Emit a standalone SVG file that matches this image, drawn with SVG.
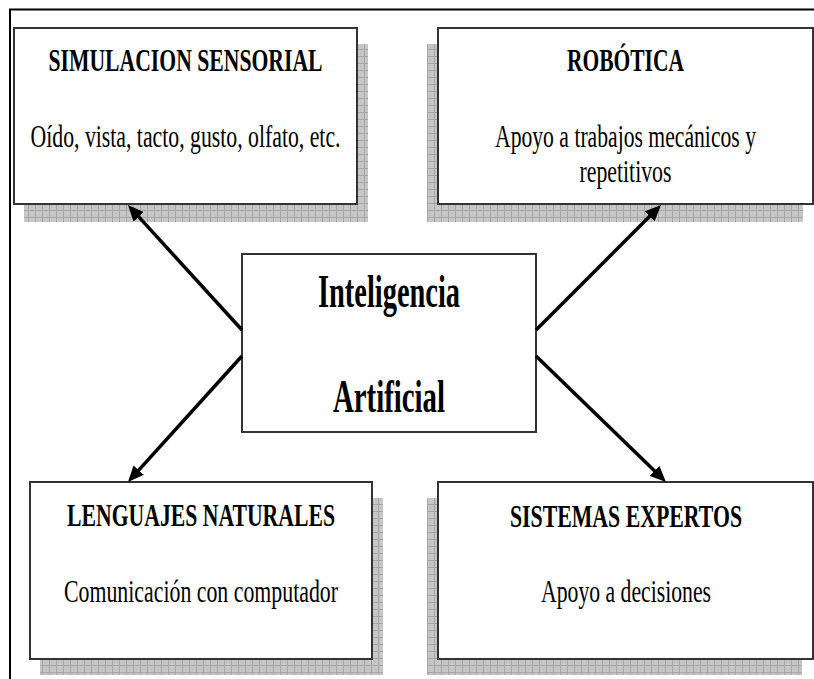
<svg xmlns="http://www.w3.org/2000/svg" width="814" height="679" viewBox="0 0 814 679">
<defs>
<pattern id="grid" patternUnits="userSpaceOnUse" width="7" height="7">
<rect width="7" height="7" fill="#c6c6c6"/>
<path d="M0.5,0 V7 M0,0.5 H7" stroke="#a6a6a6" stroke-width="1" fill="none"/>
</pattern>
<marker id="arrow" markerUnits="userSpaceOnUse" markerWidth="18" markerHeight="14" refX="6" refY="7" orient="auto">
<path d="M0,0 L16,7 L0,14 Z" fill="#000"/>
</marker>
<style>
.frame{fill:none;stroke:#000;stroke-width:2}
.shadow{fill:url(#grid)}
.box{fill:#fff;stroke:#333;stroke-width:2}
.title{font-family:"Liberation Serif","Times New Roman",serif;font-weight:bold;font-size:31px;fill:#000;text-anchor:middle}
.body{font-family:"Liberation Serif","Times New Roman",serif;font-size:31px;fill:#000;text-anchor:middle}
.center{font-family:"Liberation Serif","Times New Roman",serif;font-weight:bold;font-size:47px;fill:#000;text-anchor:middle}
.conn{stroke:#000;stroke-width:3.5;fill:none;marker-end:url(#arrow)}
</style>
</defs>
<rect width="814" height="679" fill="#fff"/>
<path class="frame" d="M10,679 V9.5 H814"/>

<g id="simulacion">
<rect class="shadow" x="24" y="44" width="344" height="178"/>
<rect class="box" x="14" y="28" width="343" height="176"/>
<text class="title" x="185.5" y="71" textLength="274" lengthAdjust="spacingAndGlyphs">SIMULACION SENSORIAL</text>
<text class="body" x="185.5" y="147" textLength="310" lengthAdjust="spacingAndGlyphs">Oído, vista, tacto, gusto, olfato, etc.</text>
</g>

<g id="robotica">
<rect class="shadow" x="427" y="44" width="376" height="178"/>
<rect class="box" x="438" y="28" width="375" height="176"/>
<text class="title" x="625.5" y="71" textLength="117" lengthAdjust="spacingAndGlyphs">ROBÓTICA</text>
<text class="body" x="625.5" y="147" textLength="261" lengthAdjust="spacingAndGlyphs">Apoyo a trabajos mecánicos y</text>
<text class="body" x="625.5" y="182" textLength="92" lengthAdjust="spacingAndGlyphs">repetitivos</text>
</g>

<g id="inteligencia">
<rect class="box" x="242" y="254" width="294" height="178"/>
<text class="center" x="389" y="307" textLength="142" lengthAdjust="spacingAndGlyphs">Inteligencia</text>
<text class="center" x="389" y="412" textLength="112" lengthAdjust="spacingAndGlyphs">Artificial</text>
</g>

<g id="lenguajes">
<rect class="shadow" x="40" y="498" width="343" height="177"/>
<rect class="box" x="30" y="482" width="342" height="177"/>
<text class="title" x="201" y="526" textLength="268" lengthAdjust="spacingAndGlyphs">LENGUAJES NATURALES</text>
<text class="body" x="201" y="602" textLength="274" lengthAdjust="spacingAndGlyphs">Comunicación con computador</text>
</g>

<g id="sistemas">
<rect class="shadow" x="427" y="498" width="375" height="177"/>
<rect class="box" x="438" y="482" width="375" height="177"/>
<text class="title" x="626" y="527" textLength="232" lengthAdjust="spacingAndGlyphs">SISTEMAS EXPERTOS</text>
<text class="body" x="626" y="602" textLength="170" lengthAdjust="spacingAndGlyphs">Apoyo a decisiones</text>
</g>

<g id="connectors">
<line class="conn" x1="242" y1="330" x2="134.7" y2="212.4"/>
<line class="conn" x1="242" y1="356" x2="134.7" y2="474.6"/>
<line class="conn" x1="536" y1="330" x2="653.9" y2="212.1"/>
<line class="conn" x1="536" y1="356" x2="658.8" y2="475"/>
</g>
</svg>
